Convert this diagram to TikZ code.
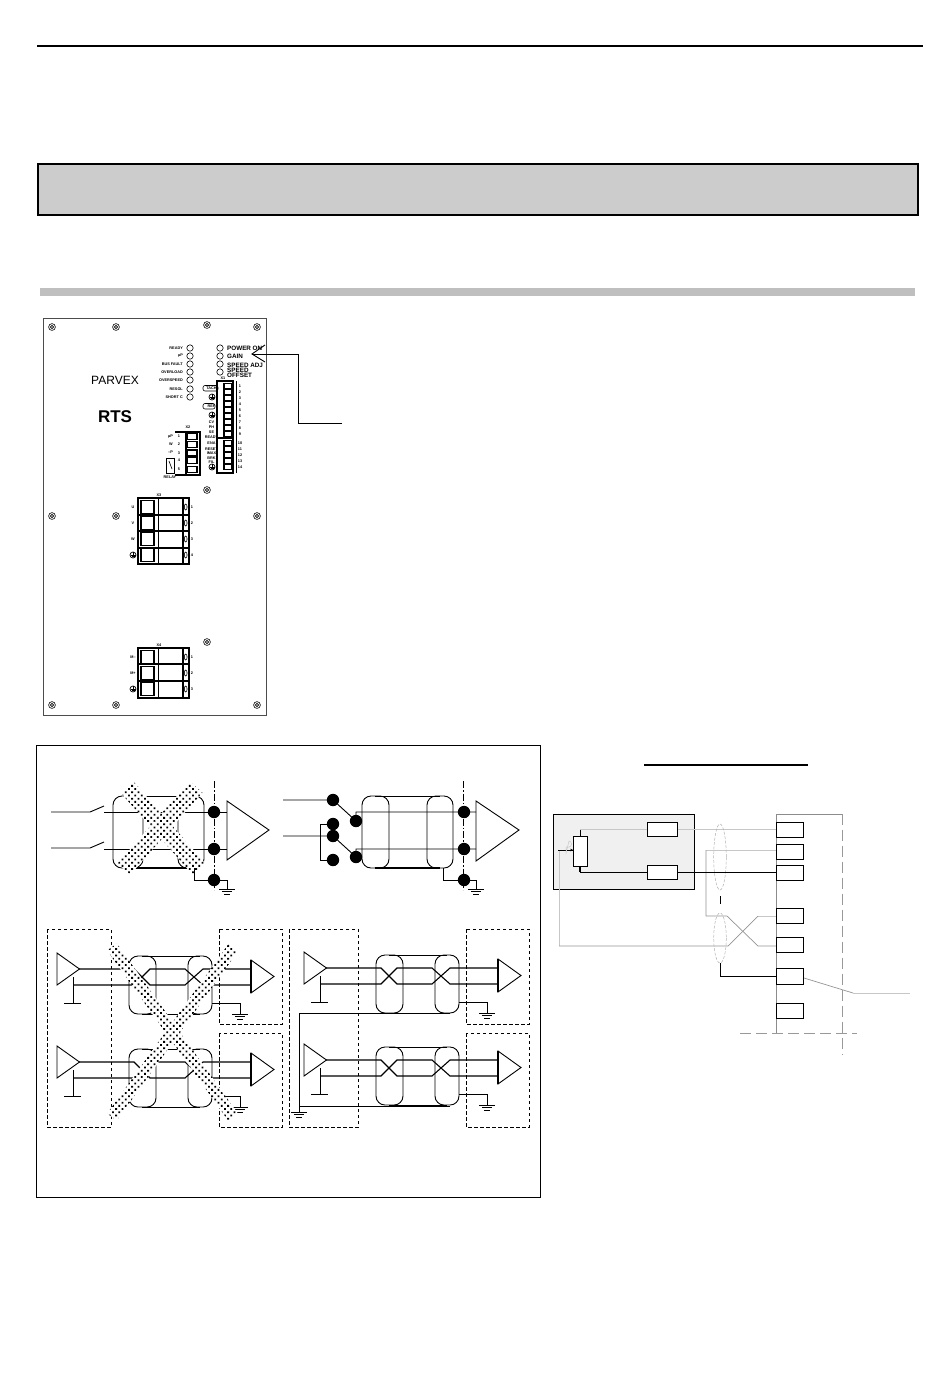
\documentclass[tikz,border=0pt]{standalone}
\usepackage{fontspec}
\setmainfont{Liberation Sans}
\usetikzlibrary{calc,patterns}
\pgfdeclarepatternformonly{banddots}{\pgfqpoint{-1pt}{-1pt}}{\pgfqpoint{7pt}{7pt}}{\pgfqpoint{6.4pt}{6.4pt}}{
	\pgfpathrectangle{\pgfqpoint{0pt}{0pt}}{\pgfqpoint{1.8pt}{1.8pt}}
	\pgfpathrectangle{\pgfqpoint{3.2pt}{3.2pt}}{\pgfqpoint{1.8pt}{1.8pt}}
	\pgfusepath{fill}}
\tikzset{
	wire/.style={line width=0.9pt},
	pair/.style={line width=1.1pt},
	heavy/.style={line width=1.6pt},
	thin wire/.style={line width=0.6pt},
	pale/.style={line width=0.7pt, color=black!22},
	mid/.style={line width=0.7pt, color=black!42},
	axis/.style={line width=0.7pt, dash pattern=on 7pt off 2pt on 1.5pt off 2pt},
	longdash/.style={line width=0.7pt, color=black!40, dash pattern=on 11pt off 5pt},
	boxdash/.style={line width=0.7pt, dash pattern=on 3.5pt off 2.5pt},
	tiny/.style={font=\bfseries\fontsize{3.8}{4}\selectfont, inner sep=0pt},
	ledtext/.style={font=\bfseries\fontsize{6.3}{6}\selectfont, inner sep=0pt, anchor=west},
	term/.style={draw, fill=white, line width=1.3pt}
}
\def\screw(#1,#2){\draw[line width=0.6pt] (#1,#2) circle (3.4); \draw[line width=0.6pt] (#1,#2) circle (1.6);}
\def\gnd(#1,#2){\draw[wire] (#1-8,#2) -- (#1+8,#2); \draw[wire] (#1-5,#2+2.6) -- (#1+5,#2+2.6); \draw[wire] (#1-3,#2+5) -- (#1+3,#2+5);}
\def\earth(#1,#2){\draw[line width=0.7pt] (#1,#2) circle (3); \draw[line width=0.9pt] (#1,#2-3) -- (#1,#2) (#1-2.5,#2) -- (#1+2.5,#2) (#1-1.5,#2+1.3) -- (#1+1.5,#2+1.3);}
\def\blackdot(#1,#2){\fill (#1,#2) circle (6.2);}
\def\dotband(#1)(#2)(#3){
	\fill[white] ($(#1)!#3pt!90:(#2)$) -- ($(#2)!#3pt!-90:(#1)$) -- ($(#2)!#3pt!90:(#1)$) -- ($(#1)!#3pt!-90:(#2)$) -- cycle;
	\fill[pattern=banddots] ($(#1)!#3pt!90:(#2)$) -- ($(#2)!#3pt!-90:(#1)$) -- ($(#2)!#3pt!90:(#1)$) -- ($(#1)!#3pt!-90:(#2)$) -- cycle;}
% one twisted pair: line driver, two shield sleeves, line receiver, earth wire
\def\twinlink(#1,#2){
	\begin{scope}[shift={(#1,#2)}]
		\draw[wire] (57,0) -- (57,32) -- (79.5,16) -- cycle;
		\draw[wire] (73,24) -- (73,50) (64,50) -- (81,50);
		\draw[pair] (79,16) -- (134,16) -- (150,32) -- (185,32) -- (203,16) -- (251,16);
		\draw[pair] (73,32) -- (134,32) -- (150,16) -- (185,16) -- (203,32) -- (251,32);
		\draw[wire,rounded corners=9] (129,3) rectangle (156,61);
		\draw[wire,rounded corners=9] (188,3) rectangle (212,61);
		\draw[wire] (142,3) -- (200,3) (142,61) -- (200,61);
		\draw[wire] (212,50) -- (240,50) -- (240,61);
		\gnd(240,61)
		\draw[wire] (251,7) -- (251,40) -- (274,23.5) -- cycle;
		\draw[line width=1.6pt] (251,7) -- (251,40);
	\end{scope}}
\begin{document}
\begin{tikzpicture}[x=1pt,y=-1pt]
	\useasboundingbox (0,0) rectangle (950,1398);
	%%%%% page head %%%%%
	\draw[line width=1.3pt] (37,46) -- (923,46);
	\draw[line width=1.4pt, fill=black!20] (38,164) rectangle (918,215);
	\fill[black!25] (40,288) rectangle (915,296);

	%%%%% front panel %%%%%
	\draw[line width=0.9pt, color=black!70] (43,318) rectangle (266,715);
	\screw(52,327) \screw(116,327) \screw(207,325) \screw(257,327)
	\screw(207,490) \screw(52,516) \screw(116,516) \screw(257,516)
	\screw(207,642) \screw(52,705) \screw(116,705) \screw(257,705)

	\node[font=\fontsize{12}{14}\selectfont, inner sep=0pt] (brand) at (115,380) {PARVEX};
	\node[font=\bfseries\fontsize{17}{18}\selectfont, inner sep=0pt] (model) at (115,417) {RTS};

	\foreach \y/\txt in {348/READY,356/µP,364/BUS FAULT,372/OVERLOAD,380/OVERSPEED,389/RESOL,397/SHORT C}{
		\draw[thin wire] (190,\y) circle (3.2);
		\node[tiny, anchor=east] (led\y) at (183,\y) {\txt};
	}
	\foreach \y in {348,356,364,372}{\draw[thin wire] (220,\y) circle (3.2);}
	\node[ledtext] (power) at (227,348) {POWER ON};
	\node[ledtext] (gain) at (227,356.5) {GAIN};
	\node[ledtext] (adj) at (227,365) {SPEED ADJ};
	\node[ledtext] (speed) at (227,370.5) {SPEED};
	\node[ledtext] (offset) at (227,375.5) {OFFSET};

	% pointer to the gain trimmer
	\coordinate (tip) at (252,354);
	\coordinate (bend) at (298,354);
	\coordinate (tail) at (342,423);
	\draw[wire] (tail) -- (298,423) -- (bend) -- (tip);
	\draw[wire] (265,345) -- (tip) -- (265,362);

	% signal connector
	\node[tiny] (xa) at (223,378) {X1};
	\draw[heavy] (217,381) rectangle (233,438);
	\draw[heavy] (217,438) rectangle (233,473);
	\draw[line width=0.8pt] (236,381) -- (236,473);
	\foreach \n [evaluate=\n as \y using {\n<10 ? 380+6*\n : 383+6*\n}] in {1,...,14}{
		\draw[term, line width=1.2pt] (224,\y-2.4) rectangle (232,\y+2.4);
		\node[tiny] (pin\n) at (240,\y) {\n};
	}
	\foreach \y/\txt in {388/TACH,406/REF,422/CV,427/PH,432/SE,437/READY,443/ENA,449/RESET,453/IMAX,458/BRK,462/FIL}{
		\node[tiny, anchor=center] (sig\y) at (211.5,\y) {\txt};
	}
	\earth(212,397) \earth(212,415) \earth(212,467)
	\draw[thin wire, rounded corners=2] (203,385.5) rectangle (218,391);
	\draw[thin wire, rounded corners=2] (203,403.5) rectangle (215,409);

	% relay connector
	\node[tiny] (xb) at (188,427) {X2};
	\draw[heavy] (175,432) -- (200,432) -- (200,475) -- (175,475);
	\draw[heavy] (186,432) -- (186,475);
	\foreach \n/\y in {1/436.5,2/444.5,3/453,4/460.5,5/469.5}{
		\draw[term, line width=1.3pt] (187,\y-3) rectangle (197,\y+3);
		\node[tiny] (relay\n) at (179,\y) {\n};
	}
	\node[tiny, anchor=east] (relp) at (173,437) {µP};
	\node[tiny, anchor=east] (relm) at (173,444) {W};
	\node[tiny, anchor=east] (relq) at (173,452) {--P};
	\draw[thin wire] (166,458) rectangle (174,473);
	\draw[thin wire] (169,461) -- (172,469);
	\node[tiny] (relk) at (170,477) {RELAY};

	% power connectors
	\node[tiny] (xc) at (159,495) {X3};
	\draw[line width=2.4pt] (138,498) rectangle (189,564);
	\foreach \y in {515,531,548}{\draw[line width=1.1pt] (138,\y) -- (189,\y);}
	\draw[line width=1pt] (158,498) -- (158,564);
	\draw[line width=1.8pt] (183,498) -- (183,564);
	\foreach \y/\n/\txt in {507/1/U~,523/2/V~,539/3/W~,555/4/}{
		\draw[term] (141,\y-6.5) rectangle (154,\y+6.5);
		\draw[thin wire] (185.7,\y) ellipse (1.4 and 3);
		\node[tiny] (pwr\n) at (192,\y) {\n};
		\node[tiny] (pwl\n) at (133,\y) {\txt};
	}
	\earth(133,555)

	\node[tiny] (xd) at (159,645) {X4};
	\draw[line width=2.4pt] (138,648) rectangle (189,698);
	\foreach \y in {664,681}{\draw[line width=1.1pt] (138,\y) -- (189,\y);}
	\draw[line width=1pt] (158,648) -- (158,698);
	\draw[line width=1.8pt] (183,648) -- (183,698);
	\foreach \y/\n/\txt in {657/1/M--,673/2/M+,689/3/}{
		\draw[term] (141,\y-6.5) rectangle (154,\y+6.5);
		\draw[thin wire] (185.7,\y) ellipse (1.4 and 3);
		\node[tiny] (mot\n) at (192,\y) {\n};
		\node[tiny] (mol\n) at (133,\y) {\txt};
	}
	\earth(133,689)

	%%%%% framed wiring examples %%%%%
	\draw[line width=0.8pt] (36.5,745) rectangle (540.5,1197);

	% contact inputs
	\draw[wire] (51,812) -- (90,812) -- (104,806);
	\draw[wire] (51,848) -- (90,848) -- (104,842);
	\draw[wire] (104,812) -- (227,812);
	\draw[wire] (104,849) -- (227,849);
	\draw[wire,rounded corners=9] (113,796) rectangle (143,868);
	\draw[wire,rounded corners=9] (178,796) rectangle (204,868);
	\draw[wire] (130,796) -- (192,796);
	\draw[heavy] (130,868) -- (192,868);
	\dotband(127,787)(199,869)(8.5)
	\dotband(196,787)(124,869)(8.5)
	\draw[axis] (214,781) -- (214,890);
	\draw[wire] (194,868) -- (194,880) -- (227,880) -- (227,889);
	\gnd(227,889)
	\blackdot(214,812) \blackdot(214,849) \blackdot(214,880)
	\draw[wire] (227,801) -- (227,860) -- (269,830) -- cycle;

	% changeover inputs
	\draw[wire] (283,800) -- (333,800) -- (356,821) -- (356,812) -- (476,812);
	\draw[wire] (283,836) -- (333,836) -- (356,857) -- (356,849) -- (476,849);
	\draw[wire] (333,824) -- (320,824) -- (320,860) -- (333,860);
	\draw[wire,rounded corners=9] (362,796) rectangle (389,868);
	\draw[wire,rounded corners=9] (427,796) rectangle (453,868);
	\draw[wire] (375,796) -- (440,796);
	\draw[heavy] (375,868) -- (440,868);
	\blackdot(333,800) \blackdot(333,824) \blackdot(333,836) \blackdot(333,860)
	\blackdot(356,821) \blackdot(356,857)
	\draw[axis] (463,781) -- (463,890);
	\draw[wire] (443,868) -- (443,880) -- (476,880) -- (476,889);
	\gnd(476,889)
	\blackdot(464,812) \blackdot(464,849) \blackdot(464,880)
	\draw[wire] (476,801) -- (476,861) -- (519,830) -- cycle;

	% twisted pairs, wrong way
	\draw[boxdash] (47,929) rectangle (111,1127);
	\draw[boxdash] (219,929) rectangle (282,1024);
	\draw[boxdash] (219,1033) rectangle (282,1127);
	\twinlink(0,953)
	\twinlink(0,1046)
	\dotband(112,947)(233,1117)(6)
	\dotband(233,948)(112,1117)(6)

	% twisted pairs, right way
	\draw[boxdash] (289,929) rectangle (358,1127);
	\draw[boxdash] (466,929) rectangle (529,1024);
	\draw[boxdash] (466,1033) rectangle (529,1127);
	\twinlink(247,952)
	\twinlink(247,1044)
	\draw[wire] (450,1013) -- (299,1013) -- (299,1112);
	\draw[wire] (450,1106) -- (299,1106);
	\gnd(299,1112)

	%%%%% speed reference wiring %%%%%
	\draw[line width=2.4pt] (644,765) -- (808,765);
	\draw[line width=0.9pt, fill=black!6] (553,814) rectangle (694,889);
	\draw[pale] (580,829) -- (776,829);
	\draw[pale] (559,850) -- (559,946);
	\draw[pale, line width=0.6pt] (706,850) -- (776,850);
	\draw[pale, line width=0.6pt] (758,916) -- (776,916);
	\draw[mid] (706,850) -- (706,916) -- (727,916) -- (758,946) -- (776,946);
	\draw[mid] (559,946) -- (728,946) -- (758,916);
	\draw[mid] (804,978) -- (853,993);
	\draw[pale] (853,993) -- (910,993);
	\draw[black!30, line width=0.5pt, dash pattern=on 3pt off 1.5pt] (720,857) ellipse (6.3 and 33);
	\draw[black!30, line width=0.5pt, dash pattern=on 3pt off 1.5pt] (720,938) ellipse (6.3 and 25);
	\draw[line width=0.8pt] (720,896) -- (720,904);
	\draw[wire] (720,963) -- (720,976) -- (776,976);
	\draw[wire] (580,830) -- (580,836);
	\draw[line width=1.6pt] (580,866) -- (580,872);
	\draw[wire] (580,872) -- (776,872);
	\draw[wire] (558,850) -- (573,850);
	\fill (573,850) -- (570.5,848.6) -- (570.5,851.4) -- cycle;
	\draw[pale, line width=0.5pt] (566,847) -- (569,847) arc (90:-90:2.5 and 3) -- (566,853) -- cycle;
	\draw[wire, fill=white] (573,836) rectangle (587,866);
	\draw[wire, fill=white] (647,822) rectangle (677,836);
	\draw[wire, fill=white] (647,865) rectangle (677,879);

	\draw[line width=0.7pt, color=black!45] (776,814) -- (776,1033);
	\draw[line width=0.7pt, color=black!45] (776,814) -- (842,814);
	\draw[longdash] (842,814) -- (842,1055);
	\draw[longdash] (740,1033) -- (857,1033);
	\foreach \y/\z in {822/837,844/859,865/880,908/923,937/952,968/984,1003/1018}{
		\draw[wire, fill=white] (776,\y) rectangle (803,\z);
	}
\end{tikzpicture}
\end{document}
